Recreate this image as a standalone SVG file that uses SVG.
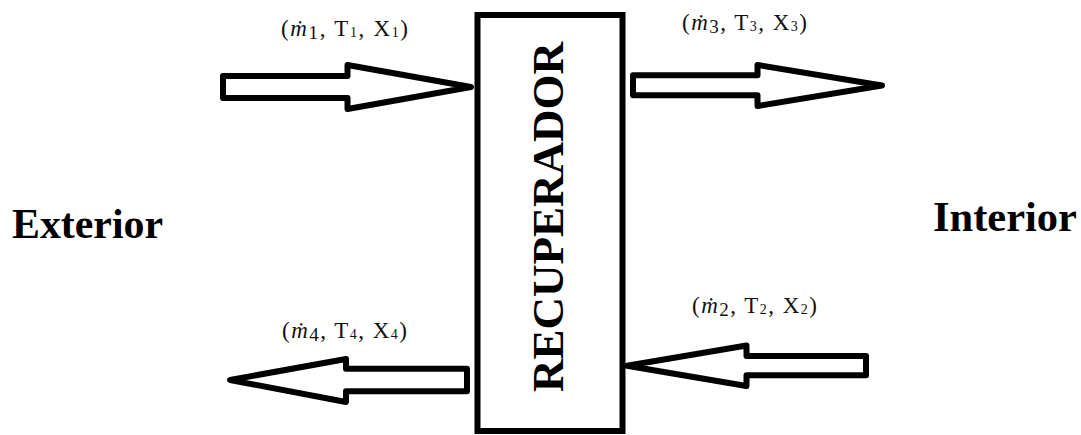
<svg xmlns="http://www.w3.org/2000/svg" width="1081" height="435" viewBox="0 0 1081 435">
  <style>
    .flow { fill: #ffffff; stroke: #000000; stroke-width: 6; stroke-linejoin: round; }
    .box { fill: #ffffff; stroke: #000000; stroke-width: 6; }
    .side { font-family: "Liberation Serif", "Times New Roman", serif; font-weight: bold; font-size: 42px; fill: #000000; }
    .title { font-family: "Liberation Serif", "Times New Roman", serif; font-weight: bold; font-size: 44px; fill: #000000; }
    .state { font-family: "Liberation Serif", "Times New Roman", serif; font-size: 23px; fill: #111111; }
    .mdot { font-style: italic; }
    .msub { font-size: 19px; }
    .sub { font-size: 14px; }
  </style>
  <rect width="1081" height="435" fill="#ffffff"/>

  <!-- heat recovery unit -->
  <g id="recuperador">
    <rect class="box" x="477.5" y="15" width="145" height="416"/>
    <text class="title" transform="translate(562.5,392) rotate(-90)" x="0" y="0" textLength="350" lengthAdjust="spacingAndGlyphs">RECUPERADOR</text>
  </g>

  <!-- zones on each side -->
  <g id="exterior">
    <text class="side" x="12" y="238" textLength="151" lengthAdjust="spacingAndGlyphs">Exterior</text>
  </g>
  <g id="interior">
    <text class="side" x="933" y="231" textLength="144" lengthAdjust="spacingAndGlyphs">Interior</text>
  </g>

  <!-- air streams -->
  <g id="connectors">
    <!-- stream 1: outdoor air into the unit -->
    <polygon class="flow" points="223,76 347.5,76 347.5,65 471,87 347.5,109 347.5,98 223,98"/>
    <!-- stream 3: supply air to the interior -->
    <polygon class="flow" points="633,75.3 757.5,75.3 757.5,65 882,85.5 757.5,106 757.5,95.3 633,95.3"/>
    <!-- stream 2: return air from the interior -->
    <polygon class="flow" points="866,356 746.5,356 746.5,345.5 627,365.7 746.5,386 746.5,375.3 866,375.3"/>
    <!-- stream 4: exhaust air to the exterior -->
    <polygon class="flow" points="467,368.7 346,368.7 346,359 230,380 346,402 346,391.3 467,391.3"/>
  </g>

  <!-- stream states -->
  <g id="state-1">
    <text class="state" x="281" y="36" textLength="127" lengthAdjust="spacing">(<tspan class="mdot">ṁ</tspan><tspan class="msub" dy="3">1</tspan><tspan dy="-3">, T</tspan><tspan class="sub" dy="1">1</tspan><tspan dy="-1">, X</tspan><tspan class="sub" dy="1">1</tspan><tspan dy="-1">)</tspan></text>
  </g>
  <g id="state-3">
    <text class="state" x="682" y="30" textLength="125" lengthAdjust="spacing">(<tspan class="mdot">ṁ</tspan><tspan class="msub" dy="3">3</tspan><tspan dy="-3">, T</tspan><tspan class="sub" dy="1">3</tspan><tspan dy="-1">, X</tspan><tspan class="sub" dy="1">3</tspan><tspan dy="-1">)</tspan></text>
  </g>
  <g id="state-2">
    <text class="state" x="692" y="313" textLength="125" lengthAdjust="spacing">(<tspan class="mdot">ṁ</tspan><tspan class="msub" dy="3">2</tspan><tspan dy="-3">, T</tspan><tspan class="sub" dy="1">2</tspan><tspan dy="-1">, X</tspan><tspan class="sub" dy="1">2</tspan><tspan dy="-1">)</tspan></text>
  </g>
  <g id="state-4">
    <text class="state" x="282" y="338" textLength="125" lengthAdjust="spacing">(<tspan class="mdot">ṁ</tspan><tspan class="msub" dy="3">4</tspan><tspan dy="-3">, T</tspan><tspan class="sub" dy="1">4</tspan><tspan dy="-1">, X</tspan><tspan class="sub" dy="1">4</tspan><tspan dy="-1">)</tspan></text>
  </g>
</svg>
